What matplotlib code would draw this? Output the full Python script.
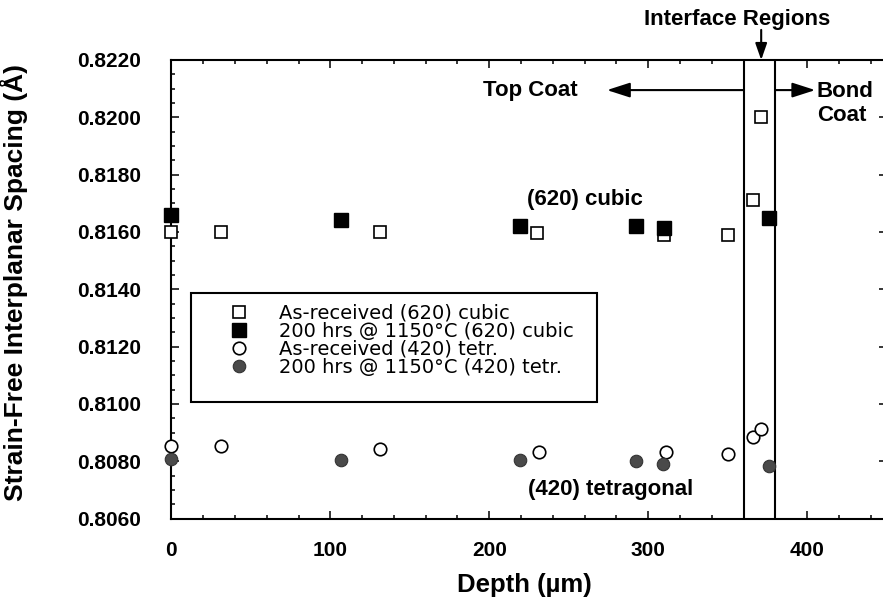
import matplotlib
matplotlib.use("Agg")
import matplotlib.pyplot as plt
from matplotlib.ticker import MultipleLocator, FormatStrFormatter
from matplotlib.patches import Rectangle

# depth (um) and strain-free spacing (A)
cubic_ar_x = [0, 31, 131, 230, 310, 350, 366, 371]
cubic_ar_y = [0.8160, 0.8160, 0.8160, 0.81595, 0.8159, 0.8159, 0.8171, 0.8200]

cubic_ht_x = [0, 107, 219, 292, 310, 376]
cubic_ht_y = [0.8166, 0.8164, 0.8162, 0.8162, 0.81615, 0.8165]

tetr_ar_x = [0, 31, 131, 231, 311, 350, 366, 371]
tetr_ar_y = [0.80853, 0.80852, 0.80843, 0.80832, 0.80833, 0.80824, 0.80884, 0.80913]

tetr_ht_x = [0, 107, 219, 292, 309, 376]
tetr_ht_y = [0.80806, 0.80804, 0.80804, 0.8080, 0.80791, 0.80785]

labels = ["As-received (620) cubic", "200 hrs @ 1150°C (620) cubic",
          "As-received (420) tetr.", "200 hrs @ 1150°C (420) tetr."]

interface = [360, 380]

bold = dict(family="Liberation Sans", weight="bold")

fig = plt.figure(figsize=(8.83, 6.03), dpi=100)
ax = fig.add_axes([0.194, 0.1401, 0.8103, 0.7604])

ax.plot(cubic_ar_x, cubic_ar_y, "s", ms=8.5, mfc="white", mec="black", mew=1.2,
        clip_on=False, zorder=5, label=labels[0])
ax.plot(cubic_ht_x, cubic_ht_y, "s", ms=10, mfc="black", mec="black",
        clip_on=False, zorder=5, label=labels[1])
ax.plot(tetr_ar_x, tetr_ar_y, "o", ms=9, mfc="white", mec="black", mew=1.2,
        clip_on=False, zorder=5, label=labels[2])
ax.plot(tetr_ht_x, tetr_ht_y, "o", ms=9, mfc="#4a4a4a", mec="#333333", mew=0.8,
        clip_on=False, zorder=5, label=labels[3])

for xv in interface:
    ax.axvline(xv, color="black", lw=1.5, zorder=3)

ax.set_xlim(0, 450)
ax.set_ylim(0.8060, 0.8220)
ax.xaxis.set_major_locator(MultipleLocator(100))
ax.xaxis.set_minor_locator(MultipleLocator(20))
ax.yaxis.set_major_locator(MultipleLocator(0.002))
ax.yaxis.set_minor_locator(MultipleLocator(0.0005))
ax.yaxis.set_major_formatter(FormatStrFormatter("%.4f"))

ax.tick_params(which="both", direction="in", top=True, right=True, width=1.1)
ax.tick_params(which="major", length=6)
ax.tick_params(which="minor", length=3)
ax.tick_params(axis="x", pad=16.5)
ax.tick_params(axis="y", pad=22)
for lab in ax.get_xticklabels() + ax.get_yticklabels():
    lab.set_fontproperties(dict(bold, size=15))
for sp in ax.spines.values():
    sp.set_linewidth(1.5)

ax.set_xlabel("Depth (µm)", fontsize=18.5, va="center", **bold)
ax.set_ylabel("Strain-Free Interplanar Spacing (Å)", fontsize=19, va="center", **bold)
ax.xaxis.set_label_coords(0.494, -0.144)
ax.yaxis.set_label_coords(-0.22, 0.514)

# legend box drawn separately, the original has extra room under the entries
ax.add_patch(Rectangle((0.0275, 0.2547), 0.5675, 0.2378, transform=ax.transAxes,
                       fill=True, fc="white", ec="black", lw=1.5, zorder=6))
ax.legend(loc="upper left", bbox_to_anchor=(0.081, 0.468), frameon=False,
          borderpad=0, borderaxespad=0, handlelength=1.0, handletextpad=1.56,
          labelspacing=-0.05, prop=dict(family="DejaVu Sans", size=14)).set_zorder(7)

# annotations
ax.annotate("", xy=(371, 0.8220), xytext=(371, 0.82305), annotation_clip=False,
            arrowprops=dict(arrowstyle="-|>,head_length=1.0,head_width=0.35",
                            color="black", lw=1.5, shrinkA=0, shrinkB=0))
ax.text(355.6, 0.8234, "Interface Regions", ha="center", va="center",
        fontsize=16, clip_on=False, **bold)

ax.annotate("", xy=(274, 0.82095), xytext=(360, 0.82095),
            arrowprops=dict(arrowstyle="-|>,head_length=1.4,head_width=0.45",
                            color="black", lw=1.5, shrinkA=0, shrinkB=0))
ax.text(226, 0.82095, "Top Coat", ha="center", va="center", fontsize=16, **bold)

ax.annotate("", xy=(405, 0.82095), xytext=(380, 0.82095),
            arrowprops=dict(arrowstyle="-|>,head_length=1.4,head_width=0.45",
                            color="black", lw=1.5, shrinkA=0, shrinkB=0))
ax.text(406, 0.82048, "Bond\nCoat", ha="left", va="center", fontsize=16,
        linespacing=1.23, **bold)

ax.text(260, 0.81712, "(620) cubic", ha="center", va="center", fontsize=16, **bold)
ax.text(276, 0.80702, "(420) tetragonal", ha="center", va="center", fontsize=16, **bold)

fig.savefig("out.png", dpi=100)
